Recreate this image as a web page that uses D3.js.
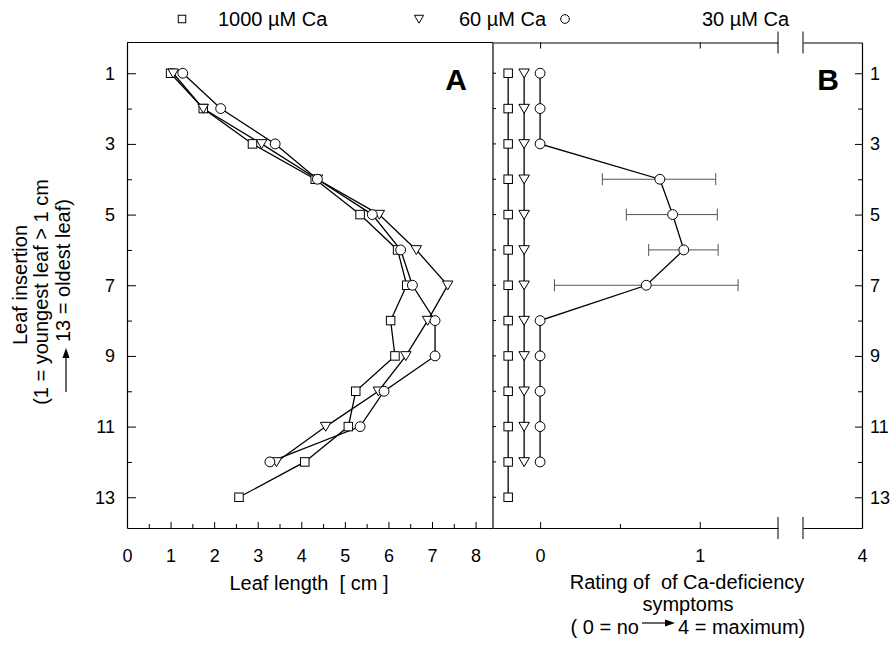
<!DOCTYPE html>
<html>
<head>
<meta charset="utf-8">
<script src="https://cdn.jsdelivr.net/npm/d3@7"></script>
<style>
  body { margin: 0; background: #fff; }
  svg { display: block; font-family: "Liberation Sans", Arial, sans-serif; }
  .pre { white-space: pre; }
</style>
</head>
<body>
<script>
// leaf insertion (1 = youngest leaf > 1 cm, 13 = oldest leaf)
const leafRows = [1, 2, 3, 4, 5, 6, 7, 8, 9, 10, 11, 12, 13];

// panel A: leaf length [cm]
const length1000 = [1.0, 1.75, 2.88, 4.32, 5.35, 6.21, 6.42, 6.05, 6.15, 5.25, 5.08, 4.08, 2.57];
const length60   = [1.06, 1.75, 3.09, 4.37, 5.79, 6.64, 7.36, 6.90, 6.40, 5.77, 4.56, 3.43];
const length30   = [1.28, 2.15, 3.40, 4.37, 5.63, 6.28, 6.55, 7.07, 7.07, 5.90, 5.35, 3.28];

// panel B: rating of Ca-deficiency symptoms
const rating1000 = [0, 0, 0, 0, 0, 0, 0, 0, 0, 0, 0, 0, 0];
const rating60   = [0, 0, 0, 0, 0, 0, 0, 0, 0, 0, 0, 0];
const rating30   = [0, 0, 0, 0.75, 0.83, 0.90, 0.665, 0, 0, 0, 0, 0];
const rating30Lo = [null, null, null, 0.39, 0.54, 0.68, 0.09, null, null, null, null, null];
const rating30Hi = [null, null, null, 1.10, 1.11, 1.115, 1.24, null, null, null, null, null];
// horizontal shift of the zero series so they do not sit on top of each other
const ratingShift = [-0.2, -0.1, 0];

const seriesNames = ["1000 µM Ca", "60 µM Ca", "30 µM Ca"];
const seriesShapes = ["square", "triangle", "circle"];

const yTicks = [1, 3, 5, 7, 9, 11, 13];

const W = 894, H = 645;
const yTop = 42.5, yBottom = 528, leftA = 127, mid = 493, rightB = 862;
const breakL = 778, breakR = 803;
const tickFont = 18;

const svg = d3.select("body").append("svg").attr("width", W).attr("height", H);

const y = d3.scaleLinear().domain([0.13, 13.87]).range([yTop, yBottom]);
const xA = d3.scaleLinear().domain([0, 8.4]).range([leftA, mid]);
const xB = d3.scaleLinear().domain([-0.295, 1.49]).range([mid, breakL]);
const xB2 = d3.scaleLinear().domain([3.63, 4]).range([breakR, rightB]);

function marker(sel, shape, s) {
  if (shape === "square") {
    sel.append("rect").attr("x", -s / 2).attr("y", -s / 2).attr("width", s).attr("height", s);
  } else if (shape === "triangle") {
    const w = s * 0.62;
    sel.append("path").attr("d", `M${-w},${-s * 0.5}L${w},${-s * 0.5}L0,${s * 0.55}Z`);
  } else {
    sel.append("circle").attr("r", s * 0.58);
  }
  sel.attr("fill", "#fff").attr("stroke", "#000").attr("stroke-width", 1);
}

function styleAxis(g, size) {
  g.attr("font-family", null).attr("font-size", size);
  g.selectAll("text").attr("fill", "#000");
  g.selectAll("line").attr("stroke", "#000");
  g.select(".domain").attr("stroke", "#000").attr("stroke-width", 1.2);
}

// ---------- panel A axes ----------
const axA = svg.append("g").attr("transform", `translate(0,${yBottom})`)
  .call(d3.axisBottom(xA).tickValues(d3.range(0, 8.01, 0.5)).tickSize(-6).tickSizeOuter(0)
    .tickPadding(21).tickFormat(d => Number.isInteger(d) ? d : ""));
axA.selectAll(".tick line").attr("y2", d => Number.isInteger(d) ? -6 : -4);
styleAxis(axA, tickFont);

const ayA = svg.append("g").attr("transform", `translate(${leftA},0)`)
  .call(d3.axisLeft(y).tickValues(leafRows).tickSize(-9).tickSizeOuter(0).tickPadding(12)
    .tickFormat(d => yTicks.includes(d) ? d : ""));
ayA.selectAll(".tick line").attr("x2", d => yTicks.includes(d) ? 9 : 5);
styleAxis(ayA, tickFont);

// top of A and the divider
svg.append("line").attr("x1", leftA).attr("x2", mid).attr("y1", yTop).attr("y2", yTop)
  .attr("stroke", "#000").attr("stroke-width", 1.2);
svg.append("line").attr("x1", mid).attr("x2", mid).attr("y1", yTop).attr("y2", yBottom)
  .attr("stroke", "#000").attr("stroke-width", 1.2);
svg.append("g").selectAll("line").data(leafRows).join("line")
  .attr("x1", mid).attr("x2", mid + 3).attr("y1", d => y(d)).attr("y2", d => y(d))
  .attr("stroke", "#000");

// ---------- panel B axes ----------
const axB = svg.append("g").attr("transform", `translate(0,${yBottom})`)
  .call(d3.axisBottom(xB).tickValues([0, 0.5, 1]).tickSize(-6).tickSizeOuter(0)
    .tickPadding(21).tickFormat(d => Number.isInteger(d) ? d : ""));
axB.selectAll(".tick line").attr("y2", d => Number.isInteger(d) ? -6 : -4);
styleAxis(axB, tickFont);
const axB2 = svg.append("g").attr("transform", `translate(0,${yBottom})`)
  .call(d3.axisBottom(xB2).tickValues([4]).tickSize(0).tickSizeOuter(0).tickPadding(21)
    .tickFormat(d3.format("d")));
styleAxis(axB2, tickFont);

const atB = svg.append("g").attr("transform", `translate(0,${yTop})`)
  .call(d3.axisTop(xB).tickValues([0, 1]).tickSize(-6).tickSizeOuter(0).tickFormat(""));
styleAxis(atB, tickFont);
const atB2 = svg.append("g").attr("transform", `translate(0,${yTop})`)
  .call(d3.axisTop(xB2).tickValues([]).tickSizeOuter(0));
styleAxis(atB2, tickFont);

const ayB = svg.append("g").attr("transform", `translate(${rightB},0)`)
  .call(d3.axisRight(y).tickValues(leafRows).tickSize(-7).tickSizeOuter(0).tickPadding(8)
    .tickFormat(d => yTicks.includes(d) ? d : ""));
ayB.selectAll(".tick line").attr("x2", d => yTicks.includes(d) ? -7 : -4);
styleAxis(ayB, tickFont);

// axis break marks
[yTop, yBottom].forEach(yy => {
  [breakL, breakR].forEach(xx => {
    svg.append("line").attr("x1", xx).attr("x2", xx).attr("y1", yy - 11).attr("y2", yy + 11)
      .attr("stroke", "#000").attr("stroke-width", 1);
  });
});

// ---------- panel A data ----------
const lengthSeries = [length1000, length60, length30];
const gA = svg.append("g");
const line = d3.line();
lengthSeries.forEach(vals => {
  gA.append("path")
    .attr("d", line(vals.map((v, i) => [xA(v), y(leafRows[i])])))
    .attr("fill", "none").attr("stroke", "#000").attr("stroke-width", 1.3);
});
lengthSeries.forEach((vals, k) => {
  gA.append("g").selectAll("g").data(vals).join("g")
    .attr("transform", (v, i) => `translate(${xA(v)},${y(leafRows[i])})`)
    .each(function () { marker(d3.select(this), seriesShapes[k], 8.5); });
});

// ---------- panel B data ----------
const ratingSeries = [rating1000, rating60, rating30];
const gB = svg.append("g");
// error bars
const errRows = rating30Lo.map((lo, i) => ({ lo, hi: rating30Hi[i], row: leafRows[i] })).filter(d => d.lo !== null);
const eb = gB.append("g").attr("stroke", "#555").attr("stroke-width", 1);
eb.selectAll(".bar").data(errRows).join("line").attr("class", "bar")
  .attr("x1", d => xB(d.lo)).attr("x2", d => xB(d.hi)).attr("y1", d => y(d.row)).attr("y2", d => y(d.row));
eb.selectAll(".capl").data(errRows).join("line").attr("class", "capl")
  .attr("x1", d => xB(d.lo)).attr("x2", d => xB(d.lo)).attr("y1", d => y(d.row) - 6).attr("y2", d => y(d.row) + 6);
eb.selectAll(".caph").data(errRows).join("line").attr("class", "caph")
  .attr("x1", d => xB(d.hi)).attr("x2", d => xB(d.hi)).attr("y1", d => y(d.row) - 6).attr("y2", d => y(d.row) + 6);

ratingSeries.forEach((vals, k) => {
  gB.append("path")
    .attr("d", line(vals.map((v, i) => [xB(v + ratingShift[k]), y(leafRows[i])])))
    .attr("fill", "none").attr("stroke", "#000").attr("stroke-width", 1.3);
});
ratingSeries.forEach((vals, k) => {
  gB.append("g").selectAll("g").data(vals).join("g")
    .attr("transform", (v, i) => `translate(${xB(v + ratingShift[k])},${y(leafRows[i])})`)
    .each(function () { marker(d3.select(this), seriesShapes[k], 8.5); });
});

// panel letters
svg.append("text").attr("x", 467).attr("y", 90).attr("text-anchor", "end")
  .attr("font-size", 30).attr("font-weight", "bold").text("A");
svg.append("text").attr("x", 839).attr("y", 90).attr("text-anchor", "end")
  .attr("font-size", 30).attr("font-weight", "bold").text("B");

// ---------- legend ----------
const legendX = [182, 419, 565];
const legendTextX = [218, 459, 702];
seriesNames.forEach((name, k) => {
  const g = svg.append("g").attr("transform", `translate(${legendX[k]},19)`);
  marker(g, seriesShapes[k], 7.5);
  svg.append("text").attr("x", legendTextX[k]).attr("y", 26).attr("font-size", 20).text(name);
});

// ---------- axis titles ----------
svg.append("text").attr("class", "pre").attr("x", 309).attr("y", 590).attr("text-anchor", "middle")
  .attr("font-size", 20).text("Leaf length  [ cm ]");

svg.append("text").attr("class", "pre").attr("x", 687).attr("y", 589).attr("text-anchor", "middle")
  .attr("font-size", 20).text("Rating of  of Ca-deficiency");
svg.append("text").attr("x", 688).attr("y", 611).attr("text-anchor", "middle")
  .attr("font-size", 20).text("symptoms");
svg.append("text").attr("class", "pre").attr("x", 639).attr("y", 634).attr("text-anchor", "end")
  .attr("font-size", 20).text("( 0 = no");
svg.append("text").attr("x", 678).attr("y", 634).attr("font-size", 20).text("4 = maximum)");

function arrow(x1, y1, x2, y2) {
  const a = Math.atan2(y2 - y1, x2 - x1);
  const L = 10, Wd = 3.5;
  const bx = x2 - L * Math.cos(a), by = y2 - L * Math.sin(a);
  svg.append("line").attr("x1", x1).attr("y1", y1).attr("x2", bx).attr("y2", by)
    .attr("stroke", "#000").attr("stroke-width", 1.2);
  svg.append("path").attr("fill", "#000")
    .attr("d", `M${x2},${y2}L${bx + Wd * Math.sin(a)},${by - Wd * Math.cos(a)}L${bx - Wd * Math.sin(a)},${by + Wd * Math.cos(a)}Z`);
}
arrow(642, 623, 675, 623);

// y title (rotated)
const yTitle = [
  { text: "Leaf insertion", x: 27, y: 285, anchor: "middle" },
  { text: "(1 = youngest leaf > 1 cm", x: 48, y: 292, anchor: "middle" },
  { text: "13 = oldest leaf)", x: 70, y: 342, anchor: "start" }
];
yTitle.forEach(t => {
  svg.append("text").attr("transform", `translate(${t.x},${t.y}) rotate(-90)`)
    .attr("text-anchor", t.anchor).attr("font-size", 20).text(t.text);
});
arrow(66, 392, 66, 348);
</script>
</body>
</html>
